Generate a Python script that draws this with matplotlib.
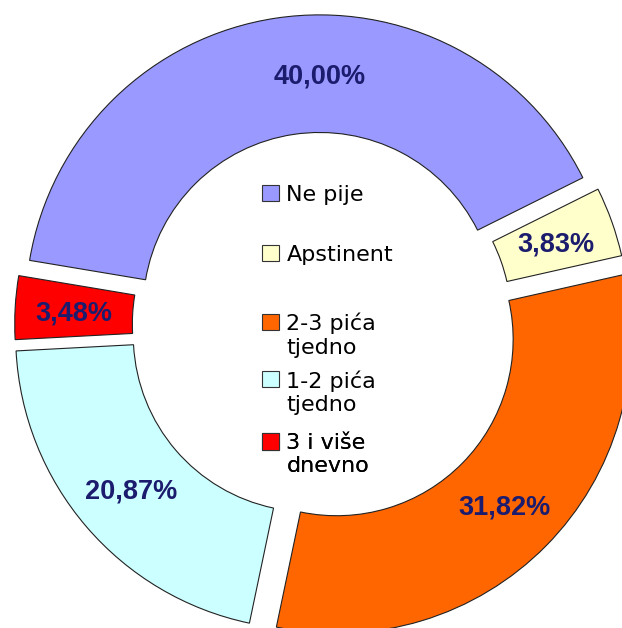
import matplotlib.pyplot as plt
import matplotlib.patches as mpatches
from matplotlib.legend_handler import HandlerPatch

labels = ['Ne pije', 'Apstinent', '2-3 pića\ntjedno', '1-2 pića\ntjedno',
          '3 i više\ndnevno']
shares = [40.00, 3.83, 31.82, 20.87, 3.48]
colors = ['#9999ff', '#ffffcc', '#ff6600', '#ccffff', '#ff0000']
explode = [0.055, 0.046, 0.07, 0.055, 0.045]

# first-line centre of each legend entry, in pixels from the top
legend_rows = [194, 254, 322, 379, 442]

fig = plt.figure(figsize=(6.22, 6.28), dpi=100)
ax = fig.add_axes([0, 0, 1, 1])


def fmt(p):
    return ('%.2f%%' % p).replace('.', ',')


wedges, texts, autotexts = ax.pie(
    shares, explode=explode, colors=colors, startangle=170.5,
    counterclock=False, radius=1.0, autopct=fmt, pctdistance=0.8,
    wedgeprops=dict(width=0.4, edgecolor='#222222', linewidth=0.8),
    textprops=dict(family='Liberation Sans', weight='bold', size=19.5,
                   color='#1c1c6e'))
for t in autotexts:
    t.set_va('center_baseline')

# the big slice has its label right at the top of the ring
cx, cy = wedges[0].center
autotexts[0].set_position((cx, cy + 0.8))


def top_square(nlines):
    # keep the square next to the first line of a wrapped label
    def make(legend, orig_handle, xdescent, ydescent, width, height,
             fontsize):
        shift = 0.6 * fontsize * (nlines - 1)
        return mpatches.Rectangle((-xdescent, -ydescent + shift),
                                  width, height)
    return make


for lab, col, yc in zip(labels, colors, legend_rows):
    h = mpatches.Patch(facecolor=col, edgecolor='#333333', linewidth=0.8)
    nl = lab.count('\n') + 1
    leg = ax.legend([h], [lab], loc='upper left',
                    bbox_to_anchor=(262 / 622, 1 - (yc - 9) / 628),
                    bbox_transform=fig.transFigure, frameon=False,
                    borderpad=0, borderaxespad=0, handlelength=0.75,
                    handleheight=0.75, handletextpad=0.35,
                    handler_map={h: HandlerPatch(patch_func=top_square(nl))},
                    prop=dict(family='DejaVu Sans', size=16))
    ax.add_artist(leg)

ax.set_aspect('auto')
ax.set_xlim(-1.095, 1.020)
ax.set_ylim(-1.031, 1.105)
ax.axis('off')

fig.savefig('out.png', dpi=100)
